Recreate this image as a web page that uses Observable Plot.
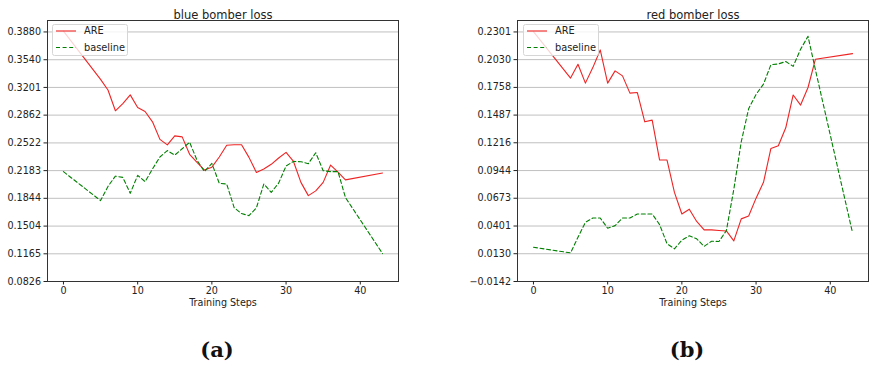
<!DOCTYPE html>
<html><head><meta charset="utf-8">
<script src="https://cdn.jsdelivr.net/npm/d3@7"></script>
<script src="https://cdn.jsdelivr.net/npm/@observablehq/plot@0.6"></script>
<style>
body{margin:0;background:#fff;width:869px;height:367px;position:relative;overflow:hidden;font-family:"DejaVu Sans",sans-serif;}
.panel{position:absolute;top:0;}
.legend{position:absolute;width:76px;height:32px;}
.sub{position:absolute;font-family:"DejaVu Serif",serif;font-weight:bold;font-size:21px;color:#111;transform:translate(-50%,-50%);white-space:nowrap;}
</style></head><body>
<div id="a" class="panel" style="left:0"></div>
<div id="b" class="panel" style="left:470px"></div>
<div id="legA" class="legend" style="left:52px;top:24px"></div>
<div id="legB" class="legend" style="left:523px;top:24px"></div>
<div class="sub" style="left:217px;top:349px">(a)</div>
<div class="sub" style="left:687px;top:349px">(b)</div>
<script>
const steps = [0,5,6,7,8,9,10,11,12,13,14,15,16,17,18,19,20,21,22,23,24,25,26,27,28,29,30,31,32,33,34,35,36,37,38,43];
const xTicks = [0,10,20,30,40];
const seriesNames = ["ARE","baseline"];

const blueARE = [0.389,0.330,0.317,0.2915,0.3004,0.311,0.2955,0.2906,0.278,0.2565,0.2498,0.2608,0.2596,0.2383,0.2283,0.219,0.2225,0.2350,0.2494,0.2500,0.2500,0.2345,0.2161,0.2203,0.2260,0.2337,0.2406,0.2295,0.2039,0.1877,0.1935,0.2039,0.2251,0.2165,0.2070,0.2153];
const blueBase = [0.2170,0.1816,0.1990,0.2115,0.2100,0.1905,0.2125,0.2048,0.2203,0.2350,0.2428,0.2373,0.2450,0.2530,0.2310,0.2172,0.2271,0.2027,0.2019,0.1730,0.1657,0.1632,0.1726,0.2019,0.1917,0.2030,0.2240,0.2296,0.2292,0.2268,0.2402,0.2182,0.2170,0.2170,0.1854,0.1168];
const blueTicks = [0.3880,0.3540,0.3201,0.2862,0.2522,0.2183,0.1844,0.1504,0.1165,0.0826];
const blueTickLabels = ["0.3880","0.3540","0.3201","0.2862","0.2522","0.2183","0.1844","0.1504","0.1165","0.0826"];
const blueDomain = [0.0826,0.4020];

const redARE = [0.2304,0.1849,0.1985,0.1800,0.1952,0.2125,0.1800,0.1920,0.1871,0.1702,0.1708,0.1421,0.1438,0.1047,0.1047,0.0730,0.0519,0.0566,0.0446,0.0363,0.0363,0.0358,0.0353,0.0255,0.0471,0.0500,0.0674,0.0829,0.1161,0.1187,0.1363,0.1684,0.1585,0.1757,0.2034,0.2089];
const redBase = [0.0193,0.0138,0.0291,0.0437,0.0480,0.0480,0.0379,0.0405,0.0480,0.0480,0.0519,0.0519,0.0519,0.0415,0.0227,0.0178,0.0262,0.0306,0.0276,0.0202,0.0252,0.0250,0.0356,0.0760,0.1225,0.1550,0.1690,0.1790,0.1980,0.1988,0.2011,0.1964,0.2132,0.2258,0.1930,0.0334];
const redTicks = [0.2301,0.2030,0.1758,0.1487,0.1216,0.0944,0.0673,0.0401,0.0130,-0.0142];
const redTickLabels = ["0.2301","0.2030","0.1758","0.1487","0.1216","0.0944","0.0673","0.0401","0.0130","\u22120.0142"];
const redDomain = [-0.0142,0.2413];

const areColor = "#ee2424";
const baseColor = "#008000";
const baseDash = "4,2.6";

function chart({are, base, ticks, labels, domain, title, width, marginRight}) {
  const fmt = new Map(ticks.map((t,i)=>[t, labels[i]]));
  const areData = steps.map((s,i)=>({step:s, v:are[i]}));
  const baseData = steps.map((s,i)=>({step:s, v:base[i]}));
  return Plot.plot({
    width, height:320, marginLeft:47, marginRight, marginTop:20, marginBottom:39,
    style:{fontFamily:"DejaVu Sans", fontSize:"9.6px", color:"#222", background:"transparent"},
    x:{domain:[-2.15,45.15]},
    y:{domain},
    marks:[
      Plot.ruleY(ticks,{stroke:"#b0b0b0", strokeWidth:0.8}),
      Plot.line(areData,{x:"step",y:"v",stroke:areColor,strokeWidth:1.1}),
      Plot.line(baseData,{x:"step",y:"v",stroke:baseColor,strokeWidth:1.1,strokeDasharray:baseDash}),
      Plot.frame({stroke:"#333", strokeWidth:1}),
      Plot.axisX(xTicks,{tickSize:3.5, tickPadding:2, label:null, tickFormat:d=>String(d)}),
      Plot.axisY(ticks,{tickSize:3.5, tickPadding:3, label:null, tickFormat:d=>fmt.get(d)}),
      Plot.text([title],{frameAnchor:"top", dy:-10, fontSize:11.5}),
      Plot.text(["Training Steps"],{frameAnchor:"bottom", dy:24})
    ]
  });
}

document.getElementById("a").append(chart({are:blueARE, base:blueBase, ticks:blueTicks, labels:blueTickLabels, domain:blueDomain, title:"blue bomber loss", width:434, marginRight:36}));
document.getElementById("b").append(chart({are:redARE, base:redBase, ticks:redTicks, labels:redTickLabels, domain:redDomain, title:"red bomber loss", width:399, marginRight:1}));

function legend(el){
  const ns="http://www.w3.org/2000/svg";
  const svg=document.createElementNS(ns,"svg");
  svg.setAttribute("width",76); svg.setAttribute("height",32);
  svg.innerHTML = `<rect x="0.5" y="0.5" width="75" height="31" rx="2" fill="white" fill-opacity="0.8" stroke="#d6d6d6" stroke-width="1"/>`;
  const styles=[{stroke:areColor,dash:null},{stroke:baseColor,dash:baseDash}];
  seriesNames.forEach((name,i)=>{
    const y = 7 + i*16.5;
    const l=document.createElementNS(ns,"line");
    l.setAttribute("x1",4); l.setAttribute("x2",24); l.setAttribute("y1",y); l.setAttribute("y2",y);
    l.setAttribute("stroke",styles[i].stroke); l.setAttribute("stroke-width",1.1);
    if(styles[i].dash) l.setAttribute("stroke-dasharray",styles[i].dash);
    svg.append(l);
    const t=document.createElementNS(ns,"text");
    t.setAttribute("x",32); t.setAttribute("y",y); t.setAttribute("dy","0.35em");
    t.setAttribute("font-family","DejaVu Sans"); t.setAttribute("font-size","9.8"); t.setAttribute("fill","#222");
    t.textContent=name;
    svg.append(t);
  });
  el.append(svg);
}
legend(document.getElementById("legA"));
legend(document.getElementById("legB"));
</script>
</body></html>
